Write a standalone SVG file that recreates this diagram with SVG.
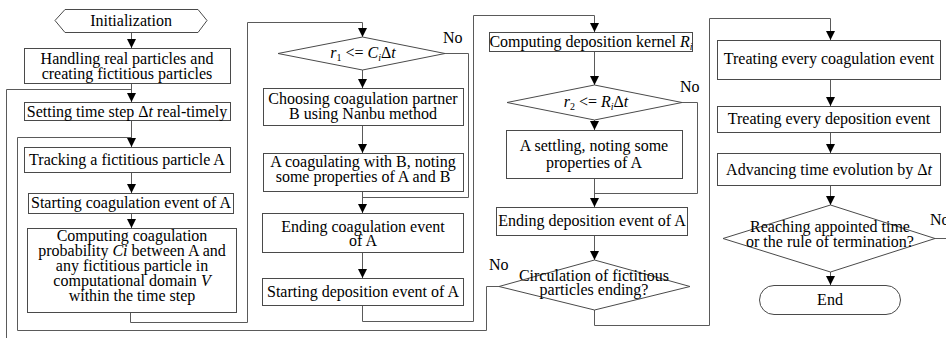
<svg xmlns="http://www.w3.org/2000/svg" width="946" height="338" viewBox="0 0 946 338">
  <style>
    .box { fill: #fff; stroke: #4a4a4a; stroke-width: 1; }
    .conn { fill: none; stroke: #5a5a5a; stroke-width: 1; }
    .arr { marker-end: url(#arrow); }
    text { font-family: 'Liberation Serif', 'DejaVu Serif', 'Times New Roman', Times, serif; font-size: 16px; fill: #000; }
    .c { text-anchor: middle; }
    .it { font-style: italic; }
    .sub { font-size: 10px; }
  </style>
  <defs>
    <marker id="arrow" viewBox="0 0 10 10" refX="10" refY="5" markerUnits="userSpaceOnUse" markerWidth="9" markerHeight="10" orient="auto">
      <path d="M0,0 L10,5 L0,10 z" fill="#000"/>
    </marker>
  </defs>

  <!-- connectors -->
  <g id="connectors">
    <path class="conn arr" d="M131.5,32 V48"/>
    <path class="conn arr" d="M131.5,83 V102"/>
    <path class="conn" d="M6.5,338 V89.5 H131.5"/>
    <path class="conn arr" d="M131.5,120 V147"/>
    <path class="conn" d="M499,286.5 H486.5 V330.5 H17.5 V137.5 H131.5"/>
    <path class="conn arr" d="M131.5,172 V193"/>
    <path class="conn arr" d="M131.5,213 V228"/>
    <path class="conn arr" d="M130.5,312 V322.5 H247.5 V22.5 H362.5 V37"/>
    <path class="conn arr" d="M362.5,70 V88"/>
    <path class="conn" d="M445,53.5 H468.5 V197.5 H362.5"/>
    <path class="conn arr" d="M362.5,125 V153"/>
    <path class="conn arr" d="M362.5,191 V213"/>
    <path class="conn arr" d="M362.5,252 V278"/>
    <path class="conn arr" d="M362.5,305 V321.5 H473.5 V15.5 H594.5 V32"/>
    <path class="conn arr" d="M594.5,51 V85"/>
    <path class="conn arr" d="M594.5,120 V130"/>
    <path class="conn" d="M682,102.5 H697.5 V193.5 H594.5"/>
    <path class="conn arr" d="M594.5,178 V207"/>
    <path class="conn arr" d="M594.5,235 V260"/>
    <path class="conn arr" d="M594.5,310 V325.5 H709.5 V18.5 H830.5 V40"/>
    <path class="conn arr" d="M830.5,79 V106"/>
    <path class="conn arr" d="M830.5,132 V153"/>
    <path class="conn arr" d="M830.5,185 V205"/>
    <path class="conn arr" d="M830.5,272 V285"/>
    <path class="conn" d="M935,238.5 H946"/>
  </g>

  <g font-family="'Liberation Serif', 'DejaVu Serif', serif">
  <!-- column 1 -->
  <g id="init">
    <polygon class="box" points="55,20.5 65,9.5 198,9.5 207,20.5 198,32.5 65,32.5"/>
    <text class="c" x="131" y="26">Initialization</text>
  </g>
  <g id="handling">
    <rect class="box" x="24.5" y="48.5" width="206" height="35"/>
    <text class="c" x="127" y="64">Handling real particles and</text>
    <text class="c" x="127" y="79">creating fictitious particles</text>
  </g>
  <g id="setting">
    <rect class="box" x="24.5" y="102.5" width="206" height="18"/>
    <text class="c" x="127" y="116.5">Setting time step Δ<tspan class="it">t</tspan> real-timely</text>
  </g>
  <g id="tracking">
    <rect class="box" x="24.5" y="147.5" width="206" height="25"/>
    <text class="c" x="127" y="165">Tracking a fictitious particle A</text>
  </g>
  <g id="start-coag">
    <rect class="box" x="28.5" y="193.5" width="205" height="20"/>
    <text class="c" x="131" y="208">Starting coagulation event of A</text>
  </g>
  <g id="coag-prob">
    <rect class="box" x="27.5" y="228.5" width="209" height="84"/>
    <text class="c" x="132" y="241">Computing coagulation</text>
    <text class="c" x="132" y="256">probability <tspan class="it">Ci</tspan> between A and</text>
    <text class="c" x="132" y="271">any fictitious particle in</text>
    <text class="c" x="132" y="286">computational domain <tspan class="it">V</tspan></text>
    <text class="c" x="132" y="301">within the time step</text>
  </g>

  <!-- column 2 -->
  <g id="test-coag">
    <polygon class="box" points="362.5,37 445,53.5 362.5,70 278,53.5"/>
    <text class="c" x="363" y="58"><tspan class="it">r</tspan><tspan class="sub" dy="3">1</tspan><tspan dy="-3"> &lt;= </tspan><tspan class="it">C</tspan><tspan class="it sub" dy="3">i</tspan><tspan dy="-3">Δ</tspan><tspan class="it">t</tspan></text>
    <text x="443" y="43">No</text>
  </g>
  <g id="partner">
    <rect class="box" x="263.5" y="88.5" width="200" height="37"/>
    <text class="c" x="363" y="104">Choosing coagulation partner</text>
    <text class="c" x="363" y="119">B using Nanbu method</text>
  </g>
  <g id="coagulate">
    <rect class="box" x="263.5" y="153.5" width="200" height="38"/>
    <text class="c" x="363" y="167">A coagulating with B, noting</text>
    <text class="c" x="363" y="182">some properties of A and B</text>
  </g>
  <g id="end-coag">
    <rect class="box" x="262.5" y="213.5" width="201" height="39"/>
    <text class="c" x="363" y="231.5">Ending coagulation event</text>
    <text class="c" x="363" y="246">of A</text>
  </g>
  <g id="start-dep">
    <rect class="box" x="262.5" y="278.5" width="201" height="27"/>
    <text class="c" x="363" y="297">Starting deposition event of A</text>
  </g>

  <!-- column 3 -->
  <g id="dep-kernel">
    <rect class="box" x="489.5" y="32.5" width="203" height="19"/>
    <text class="c" x="591" y="47">Computing deposition kernel <tspan class="it">R</tspan><tspan class="it sub" dy="3">i</tspan></text>
  </g>
  <g id="test-dep">
    <polygon class="box" points="594.5,85 682,102.5 594.5,120 507,102.5"/>
    <text class="c" x="596" y="107"><tspan class="it">r</tspan><tspan class="sub" dy="3">2</tspan><tspan dy="-3"> &lt;= </tspan><tspan class="it">R</tspan><tspan class="it sub" dy="3">i</tspan><tspan dy="-3">Δ</tspan><tspan class="it">t</tspan></text>
    <text x="680" y="92">No</text>
  </g>
  <g id="settle">
    <rect class="box" x="506.5" y="130.5" width="176" height="48"/>
    <text class="c" x="594" y="151">A settling, noting some</text>
    <text class="c" x="594" y="168">properties of A</text>
  </g>
  <g id="end-dep">
    <rect class="box" x="496.5" y="207.5" width="191" height="28"/>
    <text class="c" x="592" y="226">Ending deposition event of A</text>
  </g>
  <g id="loop-end">
    <polygon class="box" points="594.5,260 690,286.5 594.5,310 499,286.5"/>
    <text class="c" x="594" y="281">Circulation of fictitious</text>
    <text class="c" x="594" y="295">particles ending?</text>
    <text x="489" y="270">No</text>
  </g>

  <!-- column 4 -->
  <g id="treat-coag">
    <rect class="box" x="717.5" y="40.5" width="223" height="39"/>
    <text class="c" x="829" y="63.5">Treating every coagulation event</text>
  </g>
  <g id="treat-dep">
    <rect class="box" x="717.5" y="106.5" width="223" height="26"/>
    <text class="c" x="829" y="123.5">Treating every deposition event</text>
  </g>
  <g id="advance">
    <rect class="box" x="717.5" y="153.5" width="223" height="32"/>
    <text class="c" x="829" y="175">Advancing time evolution by Δ<tspan class="it">t</tspan></text>
  </g>
  <g id="test-time">
    <polygon class="box" points="830.5,205 935,238.5 830.5,272 723,238.5"/>
    <text class="c" x="830" y="232">Reaching appointed time</text>
    <text class="c" x="830" y="247">or the rule of termination?</text>
    <text x="930" y="225">No</text>
  </g>
  <g id="end">
    <rect class="box" x="759.5" y="285.5" width="141" height="29" rx="14.5" ry="14.5"/>
    <text class="c" x="830" y="305">End</text>
  </g>
  </g>
</svg>
